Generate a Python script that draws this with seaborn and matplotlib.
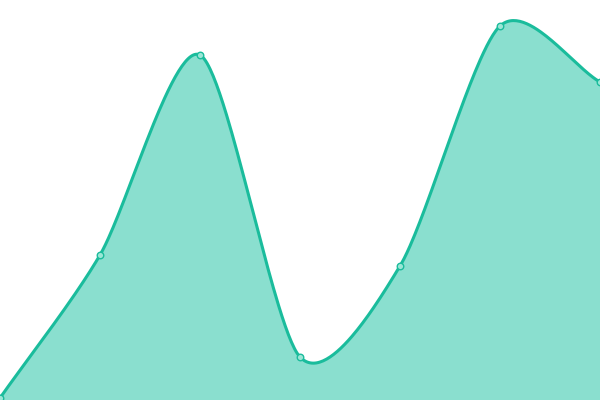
import matplotlib
matplotlib.use("Agg")
import matplotlib.pyplot as plt
import numpy as np
import pandas as pd
import seaborn as sns

# data (x positions, heights on a 0-400 scale)
x_vals = [0, 1, 2, 3, 4, 5, 6]
y_vals = [2, 145, 345, 43, 134, 374, 318]

LINE = "#1abc9c"
FILL = "#8adfcf"


def smooth(xs, ys, k=0.8, steps=60):
    """Cardinal (Hermite) curve through the points - rendering only."""
    px = np.array(xs, dtype=float)
    py = np.array(ys, dtype=float)
    n = len(px)

    def tangents(p):
        m = np.zeros(n)
        m[1:-1] = (p[2:] - p[:-2]) / 2
        m[0] = p[1] - p[0]
        m[-1] = p[-1] - p[-2]
        return m * k

    mx, my = tangents(px), tangents(py)
    out_x, out_y = [], []
    t = np.linspace(0, 1, steps, endpoint=False)
    h00 = 2 * t ** 3 - 3 * t ** 2 + 1
    h10 = t ** 3 - 2 * t ** 2 + t
    h01 = -2 * t ** 3 + 3 * t ** 2
    h11 = t ** 3 - t ** 2
    for i in range(n - 1):
        out_x.extend(h00 * px[i] + h10 * mx[i] + h01 * px[i + 1] + h11 * mx[i + 1])
        out_y.extend(h00 * py[i] + h10 * my[i] + h01 * py[i + 1] + h11 * my[i + 1])
    out_x.append(px[-1])
    out_y.append(py[-1])
    return np.array(out_x), np.array(out_y)


df = pd.DataFrame({"x": x_vals, "y": y_vals})
sx, sy = smooth(x_vals, y_vals)

sns.set_style("white")
fig = plt.figure(figsize=(6, 4), dpi=100)
ax = fig.add_axes([0, 0, 1, 1])

ax.fill_between(sx, sy, 0, color=FILL, linewidth=0)
sns.lineplot(x=sx, y=sy, ax=ax, color=LINE, linewidth=2.2, sort=False)
sns.scatterplot(data=df, x="x", y="y", ax=ax, s=22, color="#9be6d6",
                edgecolor=LINE, linewidth=1, zorder=5, clip_on=False)

ax.set_xlim(0, 6)
ax.set_ylim(0, 400)
ax.axis("off")

fig.savefig("out.png", dpi=100)
